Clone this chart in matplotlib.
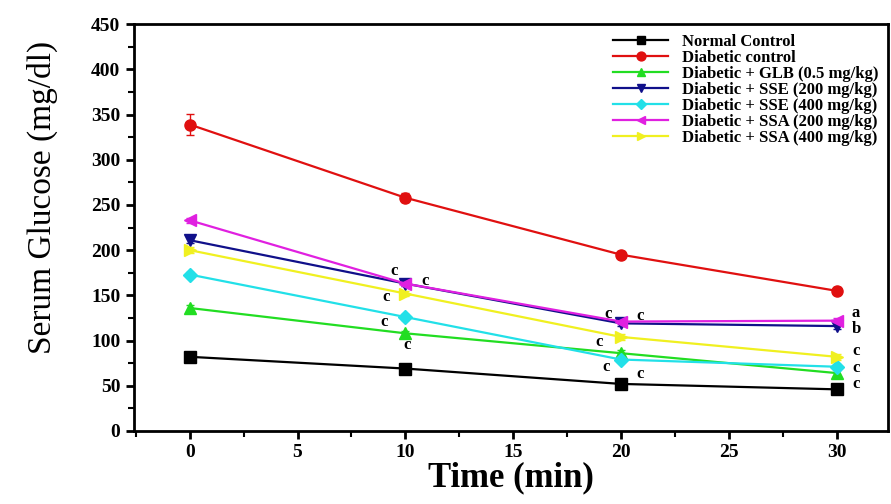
import numpy as np
import matplotlib.pyplot as plt
from matplotlib.ticker import MultipleLocator

time = [0, 10, 20, 30]

normal = [82, 69, 52, 46]
diabetic = [339, 258, 195, 155]
glb = [136, 108, 86, 64]
sse200 = [211, 163, 119, 116]
sse400 = [173, 126, 79, 71]
ssa200 = [233, 163, 121, 122]
ssa400 = [200, 152, 104, 82]

diabetic_err = [12, 5, 4, 4]
small_err = [3, 3, 3, 3]

labels = ['Normal Control', 'Diabetic control', 'Diabetic + GLB (0.5 mg/kg)',
          'Diabetic + SSE (200 mg/kg)', 'Diabetic + SSE (400 mg/kg)',
          'Diabetic + SSA (200 mg/kg)', 'Diabetic + SSA (400 mg/kg)']

# significance letters: (time, value, letter)
sig_letters = [
    (9.5, 177, 'c'), (10.9, 166, 'c'), (9.1, 148, 'c'), (9.0, 121, 'c'), (10.1, 95, 'c'),
    (19.4, 129, 'c'), (20.9, 127, 'c'), (19.0, 98, 'c'), (19.3, 71, 'c'), (20.9, 63, 'c'),
    (30.9, 130, 'a'), (30.9, 113, 'b'), (30.9, 88, 'c'), (30.9, 70, 'c'), (30.9, 52, 'c'),
]

plt.rcParams['font.family'] = ['Liberation Serif', 'DejaVu Serif']

fig = plt.figure(figsize=[8.91, 5.04], dpi=100)
ax = fig.add_axes([0.150, 0.145, 0.847, 0.807])

series = [
    (normal, small_err, 'black', 's'),
    (diabetic, diabetic_err, '#e01010', 'o'),
    (glb, small_err, '#22dd22', '^'),
    (sse200, small_err, '#10108a', 'v'),
    (sse400, small_err, '#22e0e8', 'D'),
    (ssa200, small_err, '#e020e0', '<'),
    (ssa400, small_err, '#f0f020', '>'),
]

for (vals, err, col, mk), lab in zip(series, labels):
    ms = 7 if mk == 'D' else 8
    ax.errorbar(time, vals, yerr=err, color=col, marker=mk, markersize=ms,
                linewidth=1.6, elinewidth=1, capsize=3, label=lab)

for t, v, s in sig_letters:
    ax.text(t, v, s, fontsize=12, fontweight='bold', ha='center', va='center')

ax.set_xlim(-2.6, 32.4)
ax.set_ylim(0, 450)
ax.xaxis.set_major_locator(MultipleLocator(5))
ax.xaxis.set_minor_locator(MultipleLocator(2.5))
ax.yaxis.set_major_locator(MultipleLocator(50))
ax.yaxis.set_minor_locator(MultipleLocator(25))
ax.tick_params(which='major', direction='out', length=6, width=2, labelsize=14)
ax.tick_params(which='minor', direction='out', length=4, width=1.5)
for lab in ax.get_xticklabels() + ax.get_yticklabels():
    lab.set_fontweight('bold')
for sp in ax.spines.values():
    sp.set_linewidth(2)

ax.set_xlabel('Time (min)', fontsize=25, fontweight='bold', labelpad=0)
ax.set_ylabel('Serum Glucose (mg/dl)', fontsize=24)
ax.yaxis.set_label_coords(-0.10, 0.575)

handles, labs = ax.get_legend_handles_labels()
handles = [h[0] for h in handles]
ax.legend(handles, labs, loc='upper right', frameon=False,
          prop={'weight': 'bold', 'size': 12}, handlelength=3.3,
          labelspacing=0.0, borderaxespad=0.2, markerscale=0.8)

plt.savefig('out.png', dpi=100)
